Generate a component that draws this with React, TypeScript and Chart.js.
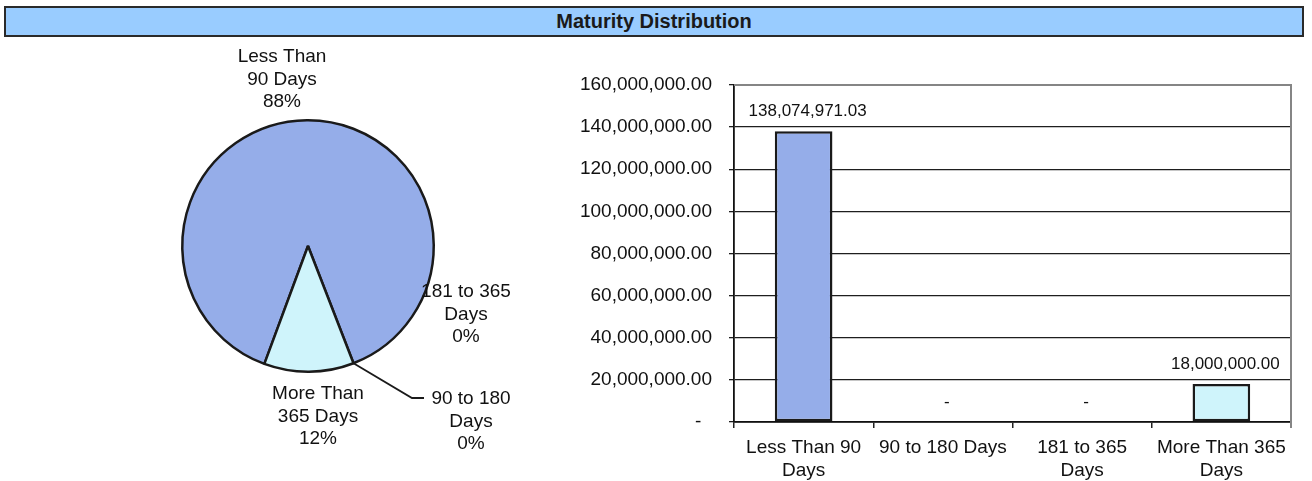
import React, { useEffect, useRef } from 'react';
import { Chart, registerables } from 'chart.js';

Chart.register(...registerables);

// ---------- data ----------
const title = 'Maturity Distribution';
const barCategories = [['Less Than 90', 'Days'], ['90 to 180 Days'], ['181 to 365', 'Days'], ['More Than 365', 'Days']];
const pieCategories = [['Less Than', '90 Days'], ['90 to 180', 'Days'], ['181 to 365', 'Days'], ['More Than', '365 Days']];
const amounts = [138074971.03, 0, 0, 18000000];
const yMin = 0;
const yMax = 160000000;
const yStep = 20000000;

// ---------- style ----------
const FONT = "'Liberation Sans', Arial, sans-serif";
const TEXT = '#111111';
const BLUE = '#95ade9';
const LIGHT = '#cff4fb';
const sliceColors = [BLUE, BLUE, BLUE, LIGHT];
// label block positions relative to pie center (first-line center)
const pieLabelPos: [number, number][] = [
  [-26, -189],
  [163, 153],
  [158, 46],
  [10, 148],
];
const pieLineGap = 22.5;

const fmt = (v: number) =>
  v.toLocaleString('en-US', { minimumFractionDigits: 2, maximumFractionDigits: 2 });

const total = amounts.reduce((a, b) => a + b, 0);
const percentText = amounts.map((v) => Math.round((v / total) * 100) + '%');

const pieLabelPlugin = {
  id: 'pieLabels',
  afterDatasetsDraw(chart: any) {
    const ctx = chart.ctx;
    const meta = chart.getDatasetMeta(0);
    const a0 = meta.data[0] as any;
    const cx = a0.x;
    const cy = a0.y;
    ctx.save();
    ctx.font = `19px ${FONT}`;
    ctx.fillStyle = TEXT;
    ctx.textAlign = 'center';
    ctx.textBaseline = 'middle';
    pieCategories.forEach((lines, i) => {
      const [dx, dy] = pieLabelPos[i];
      const all = [...lines, percentText[i]];
      all.forEach((t, j) => ctx.fillText(t, cx + dx, cy + dy + j * pieLineGap));
    });
    // leader line for the "90 to 180 Days" label
    const arc = meta.data[1] as any;
    const ang = arc.startAngle;
    const r = arc.outerRadius;
    const px = cx + Math.cos(ang) * r;
    const py = cy + Math.sin(ang) * r;
    const [dx, dy] = pieLabelPos[1];
    ctx.strokeStyle = '#1a1a1a';
    ctx.lineWidth = 1.8;
    ctx.beginPath();
    ctx.moveTo(px, py);
    ctx.lineTo(cx + dx - 59, cy + dy - 1);
    ctx.lineTo(cx + dx - 47, cy + dy - 1);
    ctx.stroke();
    ctx.restore();
  },
};

const barLabelPlugin = {
  id: 'barLabels',
  afterDatasetsDraw(chart: any) {
    const ctx = chart.ctx;
    const meta = chart.getDatasetMeta(0);
    ctx.save();
    ctx.font = `17px ${FONT}`;
    ctx.fillStyle = TEXT;
    ctx.textAlign = 'center';
    ctx.textBaseline = 'middle';
    meta.data.forEach((bar: any, i: number) => {
      const v = amounts[i];
      const t = v === 0 ? '-' : fmt(v);
      ctx.fillText(t, bar.x + 4, bar.y - 20);
    });
    ctx.restore();
  },
  afterDraw(chart: any) {
    const { ctx, chartArea } = chart;
    ctx.save();
    ctx.strokeStyle = '#858585';
    ctx.lineWidth = 2;
    ctx.beginPath();
    ctx.moveTo(chartArea.left, chartArea.top);
    ctx.lineTo(chartArea.right, chartArea.top);
    ctx.lineTo(chartArea.right, chartArea.bottom + 6);
    ctx.stroke();
    ctx.restore();
  },
};

export default function App() {
  const pieRef = useRef<HTMLCanvasElement>(null);
  const barRef = useRef<HTMLCanvasElement>(null);

  useEffect(() => {
    const pie = new Chart(pieRef.current!, {
      type: 'pie',
      data: {
        labels: pieCategories.map((l) => l.join(' ')),
        datasets: [
          {
            data: amounts,
            backgroundColor: sliceColors,
            borderColor: '#1a1a1a',
            borderWidth: 2.5,
          },
        ],
      },
      options: {
        animation: false,
        responsive: false,
        rotation: 200.3,
        layout: { padding: { left: 181, right: 185, top: 119, bottom: 108 } },
        plugins: { legend: { display: false }, tooltip: { enabled: false } },
      },
      plugins: [pieLabelPlugin],
    } as any);

    const bar = new Chart(barRef.current!, {
      type: 'bar',
      data: {
        labels: barCategories,
        datasets: [
          {
            data: amounts,
            backgroundColor: sliceColors,
            borderColor: '#1a1a1a',
            borderWidth: 2.5,
            borderSkipped: false,
            categoryPercentage: 1,
            barPercentage: 0.414,
          },
        ],
      },
      options: {
        animation: false,
        responsive: false,
        layout: { padding: { left: 0, right: 21, top: 45, bottom: 0 } },
        plugins: { legend: { display: false }, tooltip: { enabled: false } },
        scales: {
          x: {
            grid: { offset: true, drawOnChartArea: false, tickLength: 6, color: '#222', lineWidth: 1.5 },
            border: { color: '#111', width: 1.8 },
            ticks: {
              font: { family: FONT, size: 19, lineHeight: 1.2 },
              color: TEXT,
              padding: 8.6,
              maxRotation: 0,
              autoSkip: false,
            },
            afterFit: (s: any) => {
              s.height = 59;
            },
          },
          y: {
            min: yMin,
            max: yMax,
            ticks: {
              stepSize: yStep,
              font: { family: FONT, size: 19 },
              color: TEXT,
              padding: 17,
              callback: (v: any) => (Number(v) === 0 ? '-  ' : fmt(Number(v))),
            },
            grid: { color: '#1e1e1e', tickLength: 5, lineWidth: 1.3 },
            border: { color: '#111', width: 1.8 },
            afterFit: (s: any) => {
              s.width = 194;
            },
          },
        },
      },
      plugins: [barLabelPlugin],
    } as any);

    return () => {
      pie.destroy();
      bar.destroy();
    };
  }, []);

  return (
    <div style={{ position: 'absolute', left: 0, top: 0, width: 1312, height: 481, background: '#fff', overflow: 'hidden' }}>
      <div
        style={{
          position: 'absolute',
          left: 4,
          top: 6,
          width: 1300,
          height: 31,
          boxSizing: 'border-box',
          border: '2px solid #2a2a2a',
          background: '#99ccff',
          display: 'flex',
          alignItems: 'center',
          justifyContent: 'center',
          fontFamily: FONT,
          fontWeight: 'bold',
          fontSize: 20,
          color: '#1a1a1a',
        }}
      >
        {title}
      </div>
      <canvas ref={pieRef} width={620} height={481} style={{ position: 'absolute', left: 0, top: 0, width: 620, height: 481 }} />
      <canvas ref={barRef} width={772} height={441} style={{ position: 'absolute', left: 540, top: 40, width: 772, height: 441 }} />
    </div>
  );
}
